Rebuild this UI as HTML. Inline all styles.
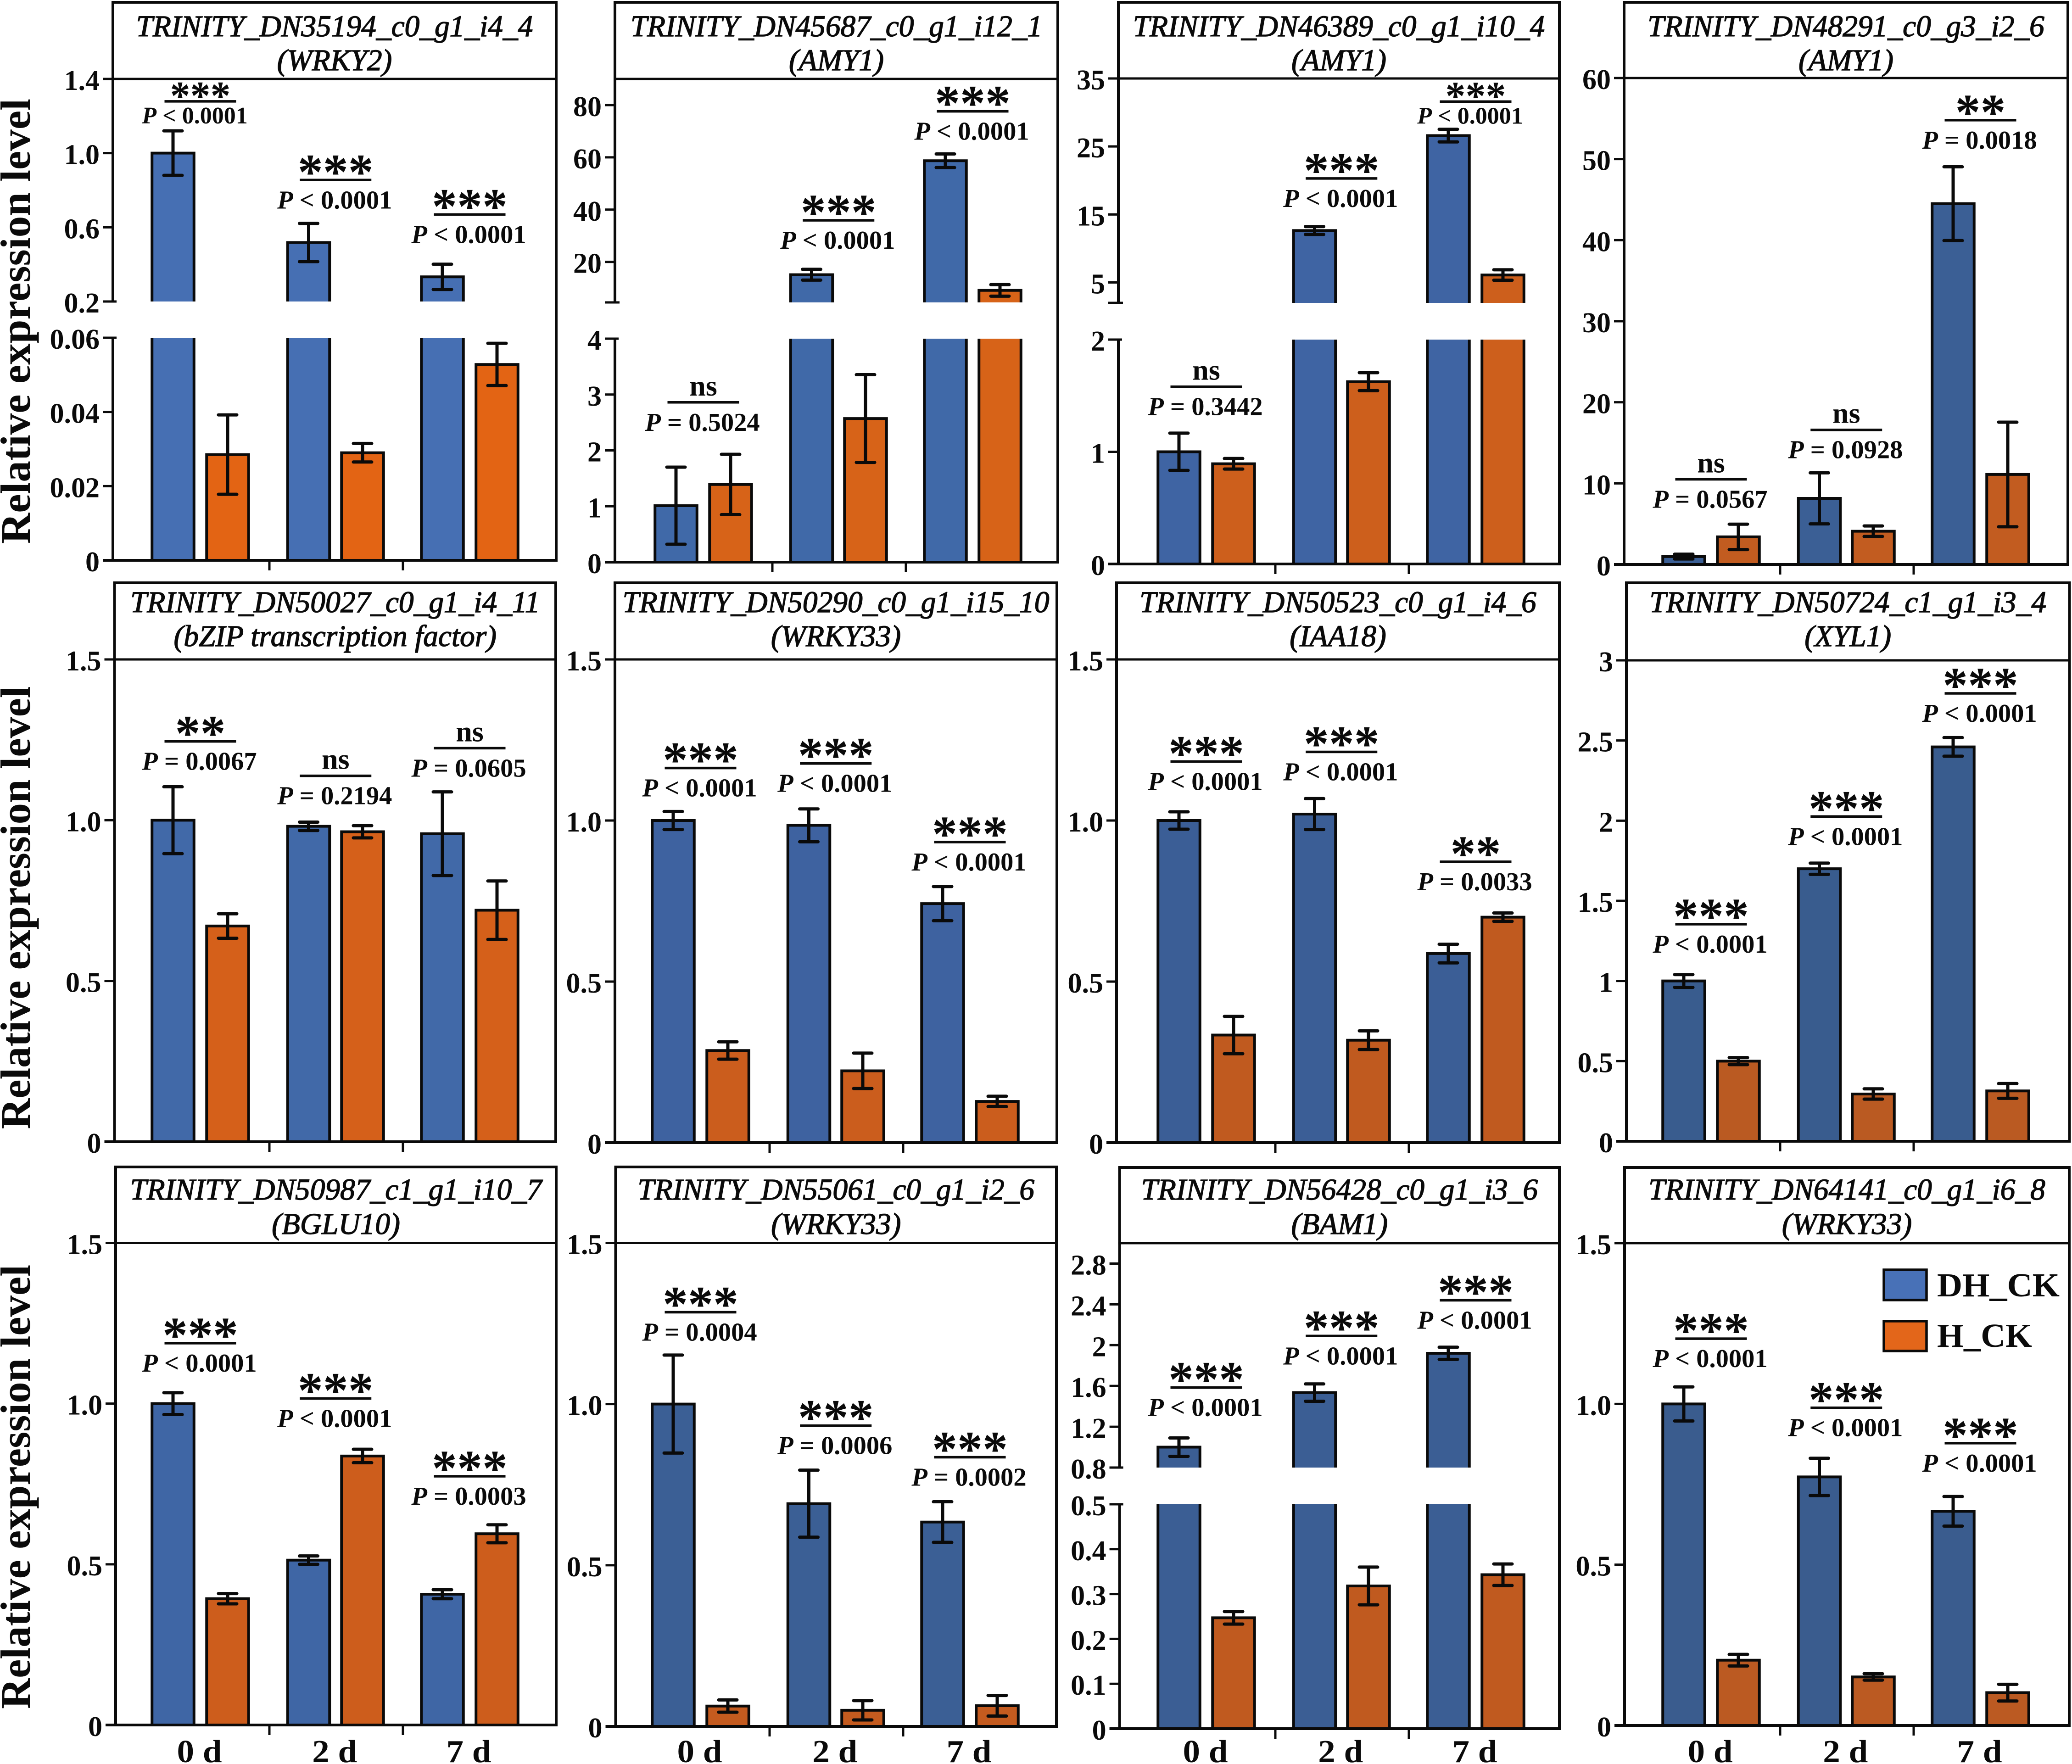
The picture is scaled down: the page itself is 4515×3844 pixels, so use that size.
<!DOCTYPE html>
<html lang="en">
<head>
<meta charset="utf-8">
<title>Relative expression level of 12 transcripts</title>
<style>
html,body{margin:0;padding:0;background:#fff}
svg{display:block}
text{font-family:"Liberation Serif","DejaVu Serif",serif;fill:#0a0a0a}
.tick{font-weight:700;font-size:62px;text-anchor:end}
.title{font-style:italic;font-size:65.4px;text-anchor:middle;stroke:#0a0a0a;stroke-width:1.4px}
.ann{font-weight:700;text-anchor:middle}
.xl{font-weight:700;font-size:70px;text-anchor:middle}
.yt{font-weight:700;font-size:92px;text-anchor:middle}
.leg{font-weight:700;font-size:73px}
</style>
</head>
<body>
<svg id="fig" xmlns="http://www.w3.org/2000/svg" width="4515" height="3844" viewBox="0 0 4515 3844">
  <rect x="0" y="0" width="4515" height="3844" fill="#ffffff"/>
  <text class="yt" transform="translate(65,700) rotate(-90)" textLength="970" lengthAdjust="spacingAndGlyphs">Relative expression level</text>
  <text class="yt" transform="translate(65,1978) rotate(-90)" textLength="965" lengthAdjust="spacingAndGlyphs">Relative expression level</text>
  <text class="yt" transform="translate(65,3240) rotate(-90)" textLength="968" lengthAdjust="spacingAndGlyphs">Relative expression level</text>
  <g id="panels"></g>
  <g>
    <rect x="4105" y="2767" width="93" height="66" fill="#4871b7" stroke="#0a0a0a" stroke-width="5.5"/>
    <text class="leg" x="4221" y="2825" textLength="267" lengthAdjust="spacingAndGlyphs">DH_CK</text>
    <rect x="4105" y="2879" width="93" height="65" fill="#e3661a" stroke="#0a0a0a" stroke-width="5.5"/>
    <text class="leg" x="4221" y="2935" textLength="207" lengthAdjust="spacingAndGlyphs">H_CK</text>
  </g>
</svg>
<script>
/* ---------- data ---------- */
const geneIds = ['TRINITY_DN35194_c0_g1_i4_4','TRINITY_DN45687_c0_g1_i12_1','TRINITY_DN46389_c0_g1_i10_4','TRINITY_DN48291_c0_g3_i2_6',
  'TRINITY_DN50027_c0_g1_i4_11','TRINITY_DN50290_c0_g1_i15_10','TRINITY_DN50523_c0_g1_i4_6','TRINITY_DN50724_c1_g1_i3_4',
  'TRINITY_DN50987_c1_g1_i10_7','TRINITY_DN55061_c0_g1_i2_6','TRINITY_DN56428_c0_g1_i3_6','TRINITY_DN64141_c0_g1_i6_8'];
const geneNames = ['(WRKY2)','(AMY1)','(AMY1)','(AMY1)','(bZIP transcription factor)','(WRKY33)','(IAA18)','(XYL1)','(BGLU10)','(WRKY33)','(BAM1)','(WRKY33)'];
const days = ['0 d','2 d','7 d'];
const dhValues = [[1,0.518,0.333],[1.01,15.1,58.7],[1,12.64,26.6],[0.97,8.15,44.5],
  [1,0.981,0.958],[1,0.985,0.742],[1,1.02,0.587],[1,1.7,2.46],
  [1,0.513,0.407],[1,0.691,0.634],[1,1.535,1.92],[1,0.773,0.666]];
const dhErrors = [[0.12,0.103,0.068],[0.69,2.07,2.6],[0.166,0.58,0.93],[0.3,3.15,4.55],
  [0.104,0.013,0.13],[0.028,0.051,0.053],[0.027,0.048,0.029],[0.04,0.035,0.058],
  [0.034,0.013,0.014],[0.152,0.104,0.063],[0.09,0.085,0.06],[0.053,0.058,0.046]];
const hValues = [[0.0285,0.029,0.0528],[1.39,2.57,9.1],[0.893,1.625,6.1],[3.4,4.1,11.1],
  [0.671,0.964,0.72],[0.286,0.223,0.128],[0.334,0.318,0.7],[0.5,0.295,0.314],
  [0.393,0.837,0.595],[0.063,0.05,0.064],[0.247,0.318,0.343],[0.203,0.151,0.102]];
const hErrors = [[0.0107,0.0025,0.0057],[0.54,0.785,2.2],[0.047,0.08,0.77],[1.57,0.65,6.45],
  [0.038,0.019,0.091],[0.027,0.055,0.016],[0.058,0.029,0.013],[0.022,0.032,0.046],
  [0.016,0.021,0.028],[0.019,0.03,0.032],[0.014,0.042,0.024],[0.018,0.01,0.026]];
const significance = [['***','***','***'],['ns','***','***'],['ns','***','***'],['ns','ns','**'],
  ['**','ns','ns'],['***','***','***'],['***','***','**'],['***','***','***'],
  ['***','***','***'],['***','***','***'],['***','***','***'],['***','***','***']];
const pLabels = [['< 0.0001','< 0.0001','< 0.0001'],['= 0.5024','< 0.0001','< 0.0001'],['= 0.3442','< 0.0001','< 0.0001'],['= 0.0567','= 0.0928','= 0.0018'],
  ['= 0.0067','= 0.2194','= 0.0605'],['< 0.0001','< 0.0001','< 0.0001'],['< 0.0001','< 0.0001','= 0.0033'],['< 0.0001','< 0.0001','< 0.0001'],
  ['< 0.0001','< 0.0001','= 0.0003'],['= 0.0004','= 0.0006','= 0.0002'],['< 0.0001','< 0.0001','< 0.0001'],['< 0.0001','< 0.0001','< 0.0001']];
const bracketLevels = [[1.279,0.855,0.669],[2.86,35.9,77.6],[1.58,20.3,31.6],[10.5,16.6,54.8],
  [1.245,1.138,1.224],[1.163,1.177,0.933],[1.183,1.213,0.872],[1.354,2.026,2.794],
  [1.188,1.016,0.774],[1.285,0.933,0.835],[1.584,2.09,2.44],[1.203,0.988,0.878]];
const lowerDomains = [[0,0.06],[0,4],[0,2],[0,60],[0,1.5],[0,1.5],[0,1.5],[0,3],[0,1.5],[0,1.5],[0,0.5],[0,1.5]];
const upperDomains = [[0.2,1.4],[4.5,90],[2,35],null,null,null,null,null,null,null,[0.8,3],null];
const lowerTicks = [['0','0.02','0.04','0.06'],['0','1','2','3','4'],['0','1','2'],['0','10','20','30','40','50','60'],
  ['0','0.5','1.0','1.5'],['0','0.5','1.0','1.5'],['0','0.5','1.0','1.5'],['0','0.5','1','1.5','2','2.5','3'],
  ['0','0.5','1.0','1.5'],['0','0.5','1.0','1.5'],['0','0.1','0.2','0.3','0.4','0.5'],['0','0.5','1.0','1.5']];
const upperTicks = [['0.2','0.6','1.0','1.4'],['20','40','60','80'],['5','15','25','35'],[],[],[],[],[],[],[],['0.8','1.2','1.6','2','2.4','2.8'],[]];
const compactAnnotations = ['0-0','2-2'];

/* ---------- layout (not data) ---------- */
const layoutLeft   = [246,1340,2437,3539, 249.5,1340,2433,3544, 252,1341.5,2439.6,3540];
const layoutRight  = [1212,2305,3398,4506, 1211,2303,3398,4509.5, 1212,2302,3398,4509];
const layoutTop    = [5,5,5,5, 1270,1270,1270,1270, 2543,2543,2544,2544];
const layoutHeader = [172,172,171,170, 1437,1437,1437,1439, 2708.5,2708.5,2709,2709];
const layoutBottom = [1221,1225,1229,1230, 2488,2490,2490,2487, 3759,3762,3767,3760];
const layoutBreakLow  = [657,659,660,0,0,0,0,0,0,0,3198,0];
const layoutBreakHigh = [736,738,740,0,0,0,0,0,0,0,3278,0];
const layoutFirstBar  = [377,1473,2569,3669, 377,1467,2569,3669, 377,1467,2569,3669];
const layoutBarOffsets = [0,119,295.5,413,587,706];
const layoutTitleY = [[79,153],[1334,1408],[2614,2689]];
const colorsDh = ['#466fb3','#4069a8','#3f64a3','#3b5f95','#4169a8','#3e62a0','#3b5e96','#395c8e','#3f66a5','#3b5f95','#3b5e94','#3a5c8e'];
const colorsH  = ['#e36414','#d76318','#cd5f1c','#c25c20','#d5601a','#cb5d1d','#c05a1f','#ba5a22','#cd5d1c','#c45b1f','#c05a1f','#bb5a22'];
const INK = '#0a0a0a', SW = 6, BAR_W = 91.5, CAP = 23;

const SVGNS = 'http://www.w3.org/2000/svg';
function mk(parent, tag, attrs, text) {
  const el = document.createElementNS(SVGNS, tag);
  for (const k in attrs) el.setAttribute(k, attrs[k]);
  if (text !== undefined) el.textContent = text;
  parent.appendChild(el);
  return el;
}
function seg(parent, x1, y1, x2, y2, w, cap) {
  return mk(parent, 'line', {x1, y1, x2, y2, stroke: INK, 'stroke-width': w || SW, 'stroke-linecap': cap || 'butt'});
}

/* axis function: value -> page y, piecewise across the axis break */
function yScale(p, v) {
  const lo = lowerDomains[p], up = upperDomains[p];
  const bottom = layoutBottom[p], header = layoutHeader[p];
  if (!up) return bottom - (v - lo[0]) / (lo[1] - lo[0]) * (bottom - header);
  const bl = layoutBreakHigh[p], bu = layoutBreakLow[p];
  if (v <= lo[1]) return bottom - (v - lo[0]) / (lo[1] - lo[0]) * (bottom - bl);
  const c = Math.max(v, up[0]);
  return bu - (c - up[0]) / (up[1] - up[0]) * (bu - header);
}

function drawBar(g, p, cx, v, fill, series, day) {
  const x0 = cx - BAR_W / 2, x1 = cx + BAR_W / 2;
  const bottom = layoutBottom[p], lo = lowerDomains[p], up = upperDomains[p];
  const pieces = [];
  if (!up || v <= lo[1]) {
    pieces.push({from: bottom, to: yScale(p, v), closed: true});
  } else {
    pieces.push({from: bottom, to: layoutBreakHigh[p], closed: false});
    if (v >= up[0]) pieces.push({from: layoutBreakLow[p], to: yScale(p, v), closed: true});
  }
  pieces.forEach(function (s) {
    const r = mk(g, 'rect', {x: x0, y: s.to, width: BAR_W, height: s.from - s.to, fill: fill});
    
    
    const d = s.closed
      ? 'M' + x0 + ' ' + s.from + 'V' + s.to + 'H' + x1 + 'V' + s.from
      : 'M' + x0 + ' ' + s.from + 'V' + s.to + 'M' + x1 + ' ' + s.to + 'V' + s.from;
    const o = mk(g, 'path', {d: d, fill: 'none', stroke: INK, 'stroke-width': SW});
    
    
  });
}

function drawError(g, p, cx, v, e, series, day) {
  const yHi = yScale(p, v + e), yLo = yScale(p, v - e);
  const eg = mk(g, 'g', {});
  
  
  seg(eg, cx, yHi, cx, yLo, 7);
  seg(eg, cx - CAP + 3, yHi, cx + CAP - 3, yHi, 7, 'round');
  seg(eg, cx - CAP + 3, yLo, cx + CAP - 3, yLo, 7, 'round');
}

function drawTick(g, p, label, value) {
  const y = yScale(p, value), L = layoutLeft[p];
  const t = seg(g, L - 22, y, L, y, 5);
  
  
  const tx = mk(g, 'text', {class: 'tick', x: L - 29, y: y + 24}, label);
  
  
}

function drawAnnotation(g, p, i, cx) {
  const by = yScale(p, bracketLevels[p][i]);
  const compact = compactAnnotations.indexOf(p + '-' + i) >= 0;
  const ag = mk(g, 'g', {});
  
  
  const br = seg(ag, cx - 78, by, cx + 78, by, 5.5);
  
  
  const sig = significance[p][i];
  if (sig === 'ns') {
    const n = mk(ag, 'text', {class: 'ann', x: cx, y: by - 15, 'font-size': 64}, sig);
    
    
  } else {
    const fs = compact ? 88 : 110;
    const s = mk(ag, 'text', {class: 'ann', x: cx, y: by + (compact ? 17 : 19), 'font-size': fs}, sig);
    
    
  }
  const pt = mk(ag, 'text', {class: 'ann', x: cx - (compact ? 12 : 2), y: by + (compact ? 48 : 62), 'font-size': compact ? 52 : 56.5});
  
  
  mk(pt, 'tspan', {'font-style': 'italic'}, 'P');
  mk(pt, 'tspan', {}, ' ' + pLabels[p][i]);
}

const root = document.getElementById('panels');
geneIds.forEach(function (id, p) {
  const row = Math.floor(p / 4);
  const L = layoutLeft[p], R = layoutRight[p], T = layoutTop[p], H = layoutHeader[p], B = layoutBottom[p];
  const g = mk(root, 'g', {});
  
  

  /* bars + error bars */
  days.forEach(function (d, i) {
    const day = d.replace(' ', '');
    const cDh = layoutFirstBar[p] + layoutBarOffsets[i * 2];
    const cH = layoutFirstBar[p] + layoutBarOffsets[i * 2 + 1];
    drawBar(g, p, cDh, dhValues[p][i], colorsDh[p], 'dh-ck', day);
    drawBar(g, p, cH, hValues[p][i], colorsH[p], 'h-ck', day);
    drawError(g, p, cDh, dhValues[p][i], dhErrors[p][i], 'dh-ck', day);
    drawError(g, p, cH, hValues[p][i], hErrors[p][i], 'h-ck', day);
    drawAnnotation(g, p, i, layoutFirstBar[p] + (layoutBarOffsets[i * 2] + layoutBarOffsets[i * 2 + 1]) / 2);
  });

  /* frame */
  const frame = mk(g, 'g', {});
  
  
  seg(frame, L - 3, T, R + 3, T, SW);
  seg(frame, L, T, L, H, SW);
  seg(frame, R, T, R, B + 3, SW);
  const headerLine = seg(frame, L - 3, H, R, H, 5);
  
  
  if (upperDomains[p]) {
    seg(frame, L, H, L, layoutBreakLow[p] + 2.5, SW);
    seg(frame, L, layoutBreakHigh[p] - 2.5, L, B, SW);
    const breakTick = seg(frame, L - 22, layoutBreakLow[p], L + (upperTicks[p].indexOf(String(upperDomains[p][0])) < 0 ? 10 : 8), layoutBreakLow[p], 5);
    
    
    const breakTick2 = seg(frame, L - 22, layoutBreakHigh[p], L + 8, layoutBreakHigh[p], 5);
    
    
  } else {
    seg(frame, L, H, L, B, SW);
  }
  const xAxis = seg(frame, L - 22, B, R + 3, B, SW);
  
  

  /* y ticks */
  lowerTicks[p].forEach(function (t) { drawTick(g, p, t, Number(t)); });
  upperTicks[p].forEach(function (t) { drawTick(g, p, t, Number(t)); });

  /* x ticks */
  [210, 501].forEach(function (o) {
    const x = layoutFirstBar[p] + o;
    const t = seg(g, x, B, x, B + 22, 5);
    
    
  });

  /* bottom row category labels */
  if (row === 2) {
    days.forEach(function (d, i) {
      const x = layoutFirstBar[p] + (layoutBarOffsets[i * 2] + layoutBarOffsets[i * 2 + 1]) / 2;
      const t = mk(g, 'text', {class: 'xl', x: x - 2, y: 3840, textLength: 98, lengthAdjust: 'spacingAndGlyphs'}, d);
      
      
    });
  }

  /* titles */
  const cx = (L + R) / 2;
  const t1 = mk(g, 'text', {class: 'title', x: cx, y: layoutTitleY[row][0]}, id);
  
  
  const t2 = mk(g, 'text', {class: 'title', x: cx, y: layoutTitleY[row][1]}, geneNames[p]);
  
  
});
</script>
</body>
</html>
